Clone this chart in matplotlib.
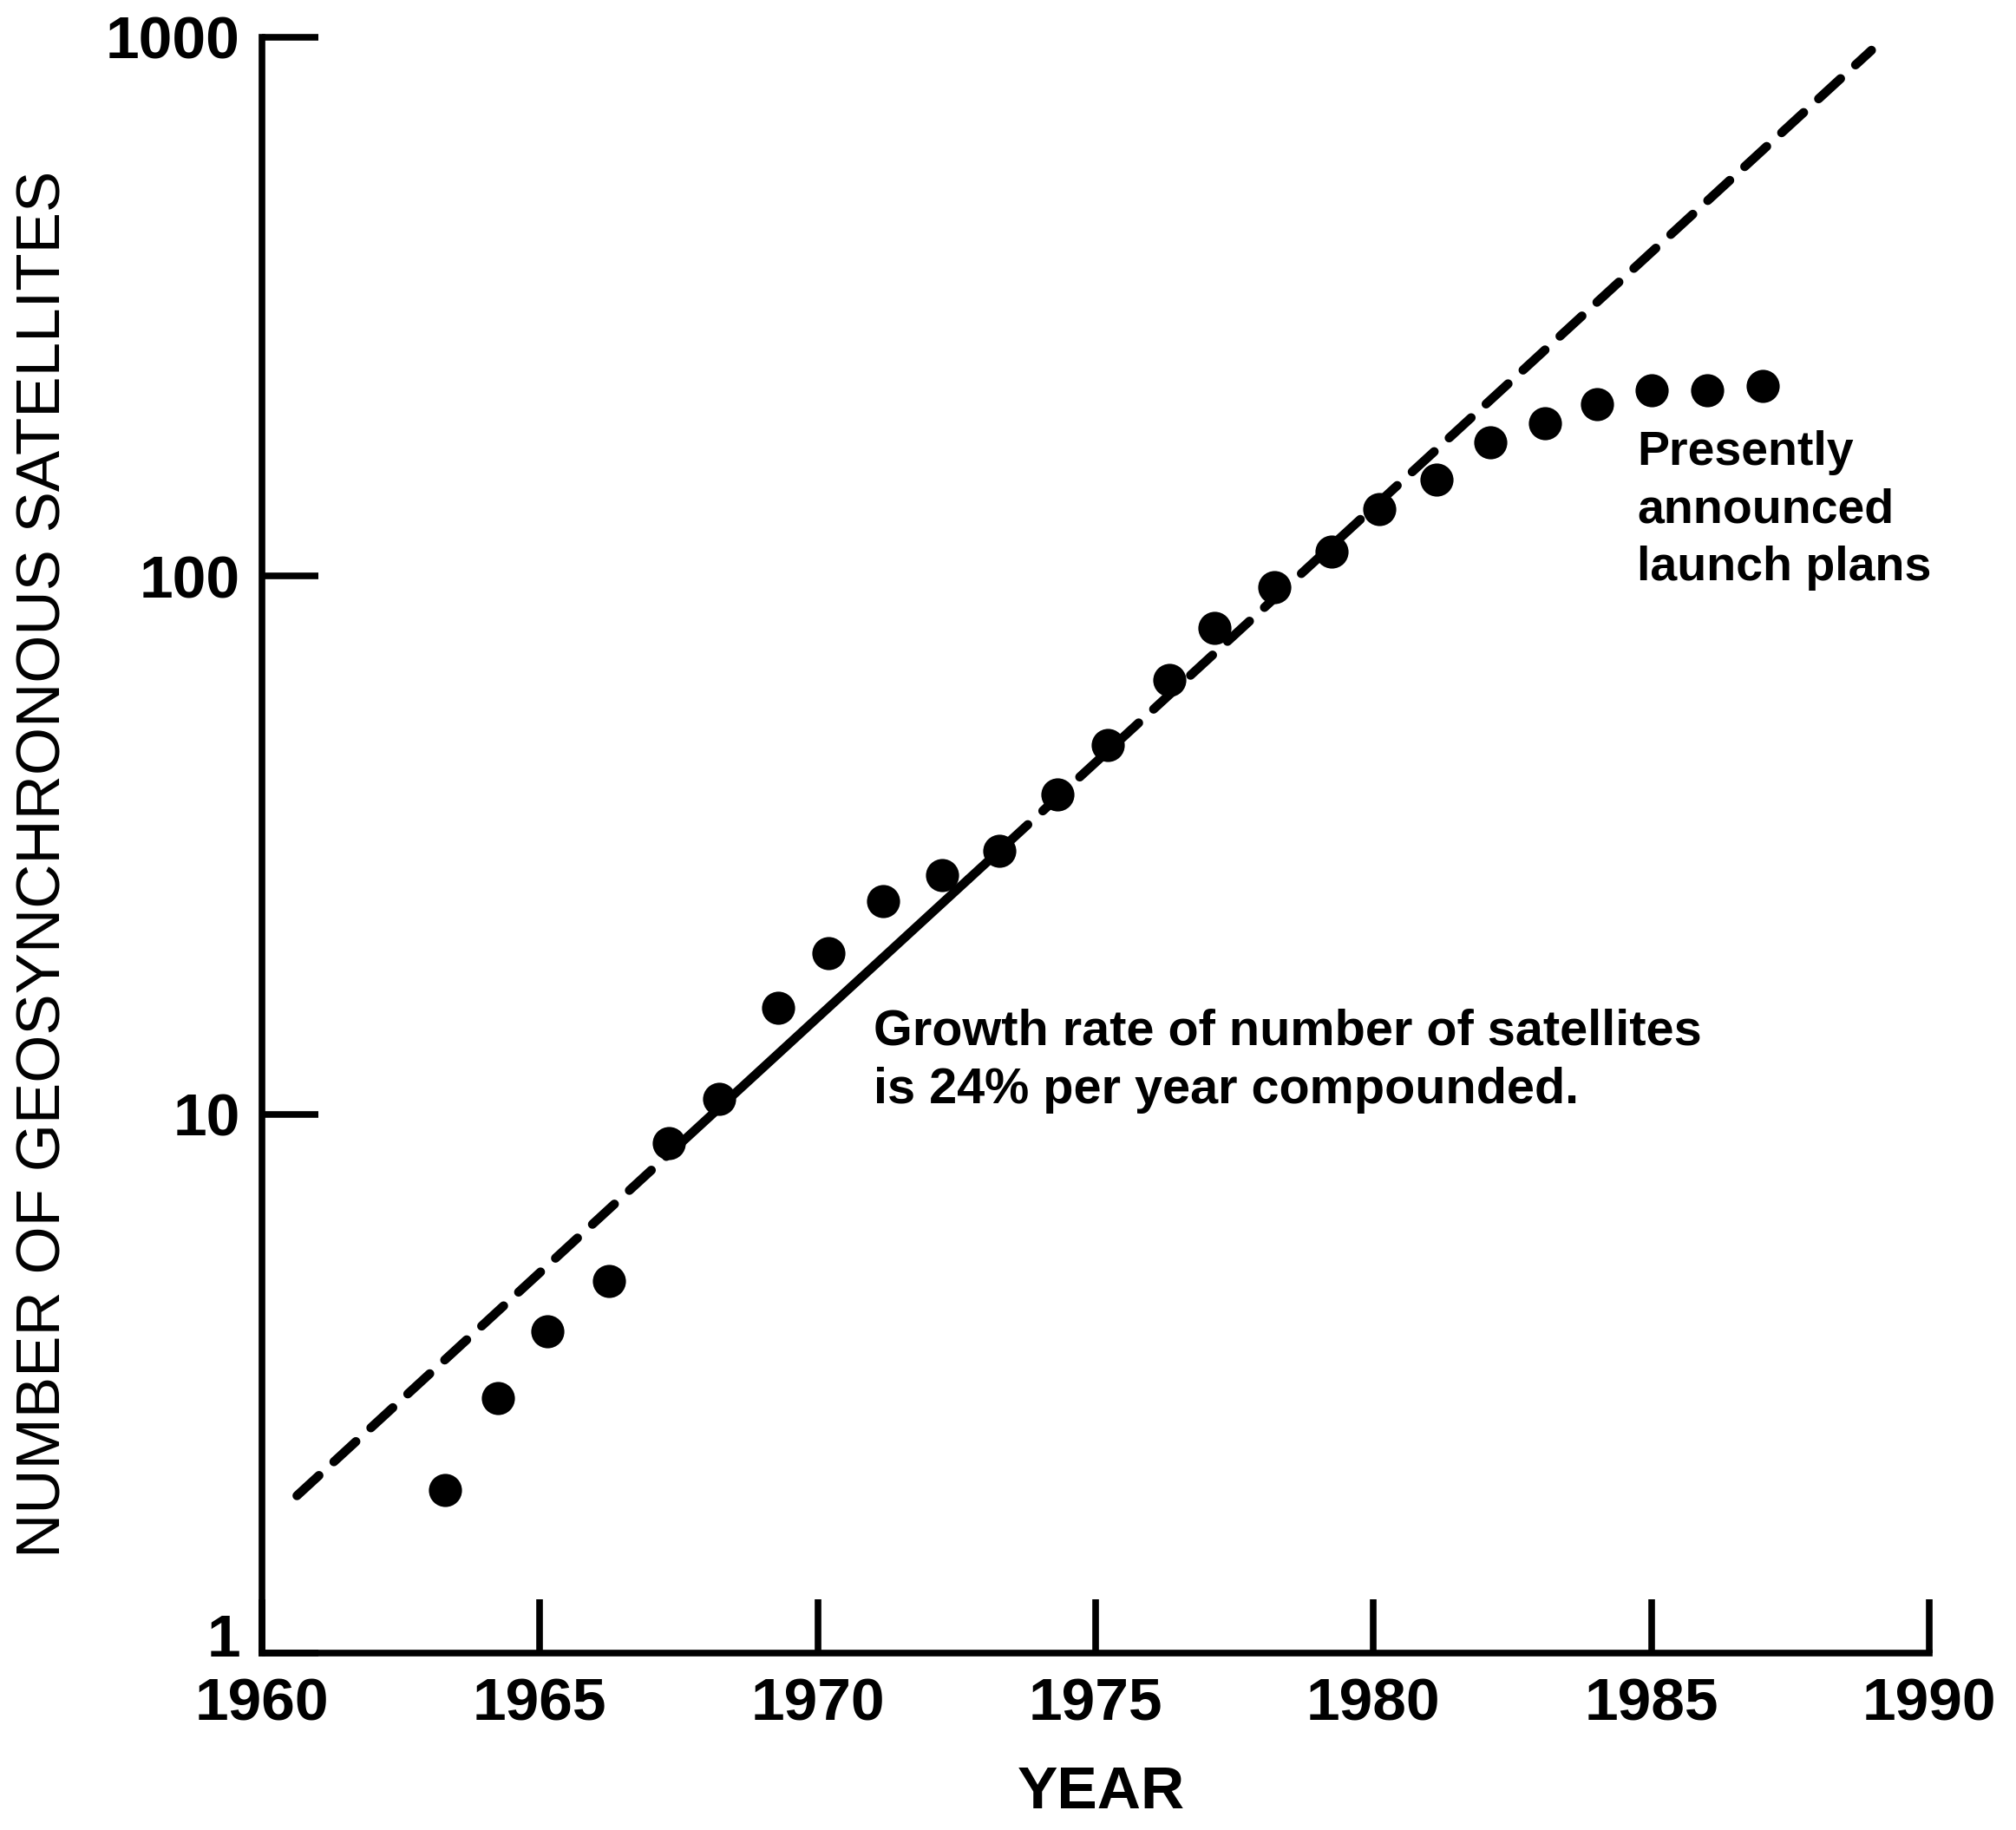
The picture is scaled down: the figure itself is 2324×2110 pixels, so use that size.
import matplotlib
matplotlib.use("Agg")
import matplotlib.pyplot as plt
from matplotlib.transforms import ScaledTranslation
import numpy as np

# ---- data ----
years = [1963.29, 1964.24, 1965.14, 1966.25, 1967.32, 1968.22, 1969.29, 1970.19,
         1971.17, 1972.23, 1973.27, 1974.32, 1975.22, 1976.33, 1977.14, 1978.21,
         1979.25, 1980.10, 1981.13, 1982.10, 1983.09, 1984.02, 1985.00, 1986.00,
         1987.00]
satellites = [2.01, 2.97, 3.96, 4.91, 8.85, 10.7, 15.8, 19.9, 24.9, 27.8, 30.9,
              39.3, 48.5, 64.2, 80.0, 95.3, 111, 133, 151, 177, 192, 208, 221,
              221, 225]

# trend line (24 % per year): dashed - solid - dashed segments
trend_years = [1960.63, 1967.48, 1972.72, 1988.96]
trend_values = [1.96, 8.74, 27.4, 946]

xticks = [1960, 1965, 1970, 1975, 1980, 1985, 1990]
xtick_labels = ["1960", "1965", "1970", "1975", "1980", "1985", "1990"]
yticks = [1, 10, 100, 1000]
ytick_labels = ["1", "10", "100", "1000"]

W, H = 2324, 2110
fig = plt.figure(figsize=(W / 100, H / 100), dpi=100)
left, right, bottom, top = 302 / W, 2224 / W, (H - 1906) / H, (H - 43) / H
ax = fig.add_axes([left, bottom, right - left, top - bottom])

FONT = "Liberation Sans"
lw_line = 7.5
dash = (3.3, 2.25)

ax.set_yscale("log")
ax.set_xlim(1960, 1990)
ax.set_ylim(1, 1000)

# trend line segments
ax.plot(trend_years[0:2], trend_values[0:2], color="black", lw=lw_line,
        dashes=dash, dash_capstyle="round")
ax.plot(trend_years[1:3], trend_values[1:3], color="black", lw=lw_line,
        solid_capstyle="butt")
ax.plot(trend_years[2:4], trend_values[2:4], color="black", lw=lw_line,
        dashes=dash, dash_capstyle="round")

# data points
ax.plot(years, satellites, linestyle="none", marker="o", markersize=27.5,
        color="black", markeredgewidth=0, zorder=5)

# axes styling
for s in ["top", "right"]:
    ax.spines[s].set_visible(False)
for s in ["left", "bottom"]:
    ax.spines[s].set_linewidth(5.5)
    ax.spines[s].set_capstyle("projecting")

ax.set_xticks(xticks)
ax.set_xticklabels(xtick_labels)
ax.set_yticks(yticks)
ax.set_yticklabels(ytick_labels)
ax.yaxis.set_minor_locator(matplotlib.ticker.NullLocator())
ax.tick_params(axis="both", direction="in", width=5.5, color="black")
ax.tick_params(axis="y", length=47, pad=18)
ax.tick_params(axis="x", length=45, pad=20)
for lab in ax.get_xticklabels() + ax.get_yticklabels():
    lab.set_fontfamily(FONT)
    lab.set_fontweight("bold")
    lab.set_fontsize(50)

# the "1" label sits slightly above the axis corner in the reference
lab1 = ax.get_yticklabels()[0]
lab1.set_transform(lab1.get_transform() +
                   ScaledTranslation(0, 15 / 72, fig.dpi_scale_trans))

# axis labels
fig.text(1269 / W, 1 - 2067 / H, "YEAR", ha="center", va="center",
         fontsize=50, fontweight="bold", family=FONT)
fig.text(52 / W, 1 - 996 / H, "NUMBER OF GEOSYNCHRONOUS SATELLITES",
         rotation=90, ha="center", va="center", fontsize=51, family=FONT)

# annotations
ann = dict(fontsize=41.5, fontweight="bold", family=FONT, ha="left", va="baseline")
ax.text(1971.0, 13.5, "Growth rate of number of satellites", **ann)
ax.text(1971.0, 10.5, "is 24% per year compounded.", **ann)
ann2 = dict(fontsize=40, fontweight="bold", family=FONT, ha="left", va="baseline")
ax.text(1984.74, 161, "Presently", **ann2)
ax.text(1984.74, 125.6, "announced", **ann2)
ax.text(1984.74, 98, "launch plans", **ann2)

for l in ax.lines:
    l.set_clip_on(False)

fig.savefig("out.png", dpi=100, facecolor="white")
